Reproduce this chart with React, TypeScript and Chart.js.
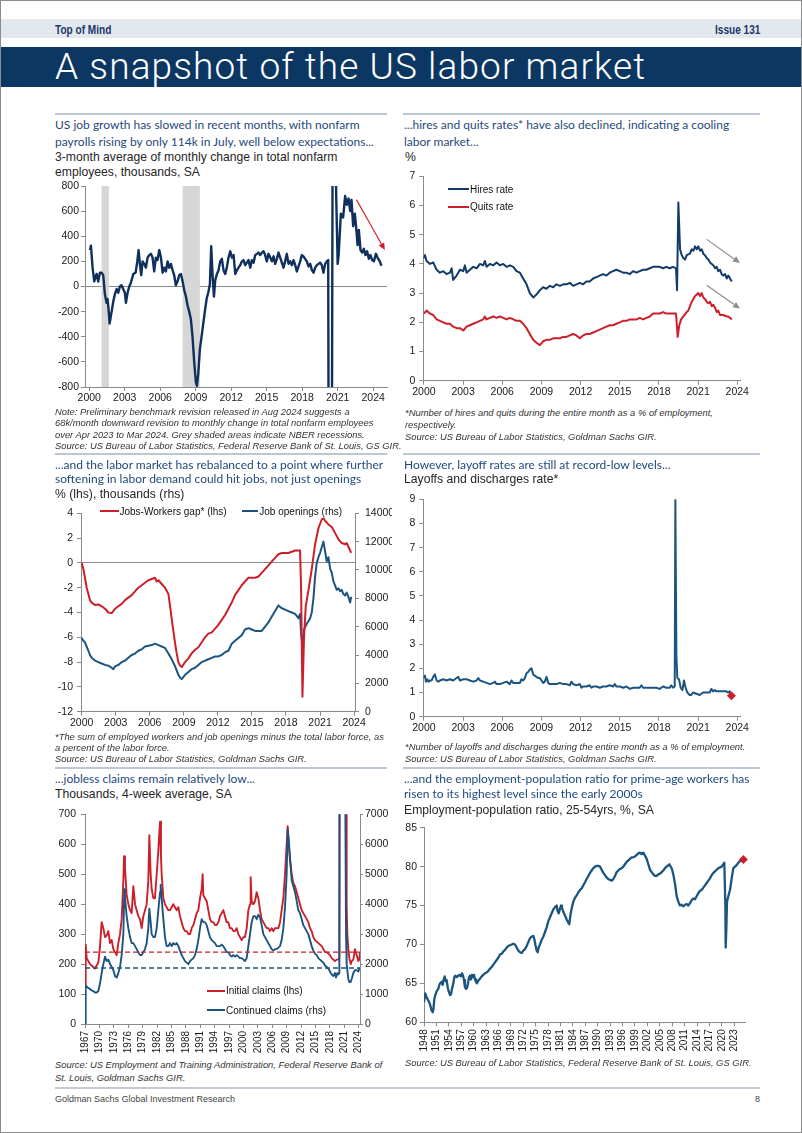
import React, { useEffect, useRef } from "react";
import { Chart, registerables } from "chart.js";

Chart.register(...registerables);

type P = [number, number];

// ---------------- DATA ----------------
const yearTicks2000 = [2000, 2003, 2006, 2009, 2012, 2015, 2018, 2021, 2024];
const claimsYearTicks = [1967, 1970, 1973, 1976, 1979, 1982, 1985, 1988, 1991, 1994, 1997, 2000, 2003, 2006, 2009, 2012, 2015, 2018, 2021, 2024];
const eprYearTicks = [1948, 1951, 1954, 1957, 1960, 1963, 1966, 1969, 1972, 1975, 1978, 1981, 1984, 1987, 1990, 1993, 1996, 1999, 2002, 2005, 2008, 2011, 2014, 2017, 2020, 2023];

// 3-month average of monthly change in nonfarm payrolls (thousands)
const payrollChange3m: P[] = [
  [2000.06,290],[2000.14,325],[2000.28,150],[2000.42,40],[2000.62,100],[2000.76,40],[2000.90,110],[2001.04,110],[2001.18,90],[2001.32,-60],[2001.46,-130],[2001.55,-100],[2001.63,-180],[2001.72,-295],[2001.89,-200],[2002.03,-120],[2002.17,-60],[2002.31,-20],[2002.45,-50],[2002.59,0],[2002.73,10],[2002.87,-20],[2003.01,-50],[2003.10,-130],[2003.24,-50],[2003.38,0],[2003.52,30],[2003.72,100],[2003.92,110],[2004.06,200],[2004.17,290],[2004.28,180],[2004.39,90],[2004.51,200],[2004.65,180],[2004.79,150],[2004.93,230],[2005.07,250],[2005.21,260],[2005.35,230],[2005.49,120],[2005.63,230],[2005.77,210],[2005.92,290],[2006.06,230],[2006.20,110],[2006.34,150],[2006.48,120],[2006.62,200],[2006.76,150],[2006.90,180],[2007.04,130],[2007.18,90],[2007.32,10],[2007.46,40],[2007.61,90],[2007.75,100],[2007.89,40],[2008.03,-30],[2008.17,-80],[2008.31,-150],[2008.45,-200],[2008.59,-260],[2008.73,-400],[2008.87,-600],[2009.01,-760],[2009.10,-790],[2009.21,-700],[2009.35,-500],[2009.49,-400],[2009.63,-300],[2009.77,-200],[2009.92,-100],[2010.08,-40],[2010.20,20],[2010.31,320],[2010.42,100],[2010.54,-80],[2010.65,50],[2010.79,100],[2010.93,130],[2011.07,200],[2011.21,220],[2011.35,130],[2011.49,100],[2011.63,150],[2011.77,230],[2011.92,280],[2012.06,230],[2012.20,250],[2012.34,100],[2012.48,130],[2012.62,150],[2012.76,170],[2012.90,200],[2013.04,210],[2013.18,170],[2013.32,190],[2013.46,210],[2013.61,150],[2013.75,210],[2013.89,190],[2014.03,250],[2014.17,260],[2014.31,270],[2014.45,250],[2014.59,270],[2014.73,280],[2014.87,250],[2015.01,200],[2015.15,260],[2015.30,230],[2015.44,200],[2015.58,240],[2015.72,180],[2015.86,220],[2016.00,270],[2016.14,230],[2016.28,190],[2016.42,150],[2016.56,200],[2016.70,260],[2016.85,180],[2016.99,200],[2017.13,170],[2017.27,210],[2017.41,170],[2017.55,120],[2017.69,160],[2017.83,200],[2017.97,250],[2018.11,240],[2018.25,220],[2018.39,200],[2018.54,160],[2018.68,180],[2018.82,130],[2018.96,110],[2019.10,150],[2019.24,170],[2019.38,180],[2019.52,190],[2019.66,170],[2019.80,110],[2019.94,180],[2020.08,200],[2020.20,210],[2020.31,-4500],[2020.48,-2500],[2020.62,3000],[2020.75,1500],[2020.88,700],[2021.00,180],[2021.08,250],[2021.27,580],[2021.46,550],[2021.63,720],[2021.77,650],[2021.92,700],[2022.06,600],[2022.17,690],[2022.31,480],[2022.45,580],[2022.59,440],[2022.68,330],[2022.79,450],[2022.93,290],[2023.07,270],[2023.21,300],[2023.35,250],[2023.49,280],[2023.63,220],[2023.77,250],[2023.92,210],[2024.06,200],[2024.23,260],[2024.37,230],[2024.56,200],[2024.70,165],
];
const nberRecessions: P[] = [[2001.04, 2001.66], [2007.89, 2009.35]];
const payrollTrendArrow: P[] = [[2022.59, 690], [2024.99, 290]];

// JOLTS hires and quits rates (%)
const hiresRate: P[] = [
  [2000.00,4.2],[2000.08,4.3],[2000.20,4.1],[2000.46,4.0],[2000.71,4.05],[2000.97,3.8],[2001.22,3.7],[2001.48,3.75],[2001.73,3.65],[2001.99,3.7],[2002.12,3.85],[2002.24,3.45],[2002.50,3.6],[2002.76,3.8],[2003.01,3.75],[2003.14,3.95],[2003.27,3.7],[2003.52,3.8],[2003.78,3.9],[2004.03,3.85],[2004.29,4.0],[2004.54,3.95],[2004.67,4.1],[2004.80,3.9],[2005.05,4.0],[2005.31,3.95],[2005.56,4.05],[2005.82,3.95],[2006.07,4.0],[2006.33,3.9],[2006.58,3.95],[2006.84,3.9],[2007.09,3.75],[2007.35,3.7],[2007.60,3.5],[2007.86,3.3],[2008.11,3.0],[2008.37,2.85],[2008.62,2.95],[2008.88,3.1],[2009.13,3.2],[2009.39,3.15],[2009.64,3.25],[2009.90,3.2],[2010.15,3.3],[2010.41,3.25],[2010.66,3.3],[2010.92,3.3],[2011.17,3.35],[2011.43,3.25],[2011.68,3.3],[2011.94,3.35],[2012.19,3.3],[2012.45,3.4],[2012.70,3.4],[2012.96,3.5],[2013.21,3.55],[2013.47,3.6],[2013.72,3.65],[2013.98,3.6],[2014.23,3.7],[2014.49,3.75],[2014.74,3.8],[2015.00,3.75],[2015.26,3.7],[2015.51,3.7],[2015.77,3.65],[2016.02,3.75],[2016.28,3.7],[2016.53,3.75],[2016.79,3.8],[2017.04,3.8],[2017.30,3.85],[2017.55,3.9],[2017.81,3.9],[2018.06,3.9],[2018.32,3.85],[2018.57,3.9],[2018.83,3.85],[2019.08,3.9],[2019.31,3.85],[2019.39,3.1],[2019.49,6.1],[2019.62,4.5],[2019.75,4.3],[2019.87,4.2],[2020.00,4.15],[2020.13,4.3],[2020.38,4.35],[2020.51,4.5],[2020.64,4.45],[2020.77,4.6],[2020.90,4.5],[2021.02,4.6],[2021.15,4.45],[2021.28,4.5],[2021.40,4.35],[2021.53,4.3],[2021.66,4.2],[2021.79,4.15],[2021.92,4.05],[2022.05,4.0],[2022.17,3.95],[2022.30,3.85],[2022.43,3.9],[2022.55,3.75],[2022.68,3.8],[2022.81,3.65],[2022.93,3.6],[2023.07,3.65],[2023.20,3.5],[2023.32,3.6],[2023.45,3.5],[2023.58,3.4],
];
const quitsRate: P[] = [
  [2000.00,2.3],[2000.20,2.4],[2000.46,2.3],[2000.71,2.25],[2000.97,2.1],[2001.22,2.05],[2001.48,2.0],[2001.73,1.95],[2001.99,1.95],[2002.24,1.85],[2002.50,1.8],[2002.76,1.8],[2003.01,1.72],[2003.27,1.85],[2003.52,1.9],[2003.78,1.95],[2004.03,2.0],[2004.29,2.05],[2004.54,2.1],[2004.67,2.2],[2004.80,2.1],[2005.05,2.15],[2005.31,2.2],[2005.56,2.15],[2005.82,2.2],[2006.07,2.15],[2006.33,2.1],[2006.58,2.15],[2006.84,2.1],[2007.09,2.05],[2007.35,2.05],[2007.60,1.95],[2007.86,1.8],[2008.11,1.6],[2008.37,1.4],[2008.62,1.3],[2008.88,1.22],[2009.13,1.35],[2009.39,1.4],[2009.64,1.4],[2009.90,1.45],[2010.15,1.45],[2010.41,1.45],[2010.66,1.5],[2010.92,1.5],[2011.17,1.55],[2011.43,1.6],[2011.68,1.55],[2011.94,1.45],[2012.19,1.55],[2012.45,1.6],[2012.70,1.6],[2012.96,1.65],[2013.21,1.7],[2013.47,1.75],[2013.72,1.8],[2013.98,1.85],[2014.23,1.9],[2014.49,1.9],[2014.74,1.95],[2015.00,2.0],[2015.26,2.05],[2015.51,2.05],[2015.77,2.1],[2016.02,2.1],[2016.28,2.1],[2016.53,2.15],[2016.79,2.1],[2017.04,2.15],[2017.30,2.2],[2017.55,2.3],[2017.81,2.3],[2018.06,2.3],[2018.32,2.35],[2018.57,2.3],[2018.83,2.3],[2019.08,2.3],[2019.31,2.3],[2019.44,1.5],[2019.56,1.9],[2019.70,2.1],[2019.87,2.2],[2020.13,2.35],[2020.25,2.4],[2020.38,2.55],[2020.51,2.7],[2020.64,2.8],[2020.77,2.9],[2020.90,2.95],[2021.02,3.0],[2021.15,2.9],[2021.28,3.0],[2021.40,2.85],[2021.53,2.8],[2021.66,2.7],[2021.79,2.65],[2021.92,2.7],[2022.05,2.55],[2022.17,2.6],[2022.30,2.5],[2022.43,2.35],[2022.55,2.4],[2022.68,2.25],[2022.93,2.25],[2023.20,2.2],[2023.32,2.2],[2023.45,2.15],[2023.58,2.1],
];
const hiresArrow: P[] = [[2021.66, 4.84], [2024.21, 4.03]];
const quitsArrow: P[] = [[2021.66, 3.27], [2024.21, 2.47]];

// Jobs-workers gap (% of labor force, lhs) and job openings (thousands, rhs)
const jobsWorkersGap: P[] = [
  [2000.00,0],[2000.15,-0.5],[2000.29,-1.2],[2000.44,-2.0],[2000.59,-2.5],[2000.73,-3.0],[2000.88,-3.2],[2001.18,-3.4],[2001.47,-3.35],[2001.76,-3.5],[2002.06,-3.7],[2002.35,-4.0],[2002.64,-4.05],[2002.94,-3.7],[2003.23,-3.5],[2003.53,-3.3],[2003.82,-3.0],[2004.11,-2.8],[2004.41,-2.6],[2004.70,-2.3],[2004.99,-2.0],[2005.29,-1.8],[2005.58,-1.6],[2005.88,-1.4],[2006.17,-1.3],[2006.46,-1.2],[2006.61,-1.5],[2006.76,-1.4],[2007.05,-1.7],[2007.34,-2.0],[2007.64,-2.5],[2007.79,-3.5],[2007.93,-4.5],[2008.08,-5.5],[2008.23,-6.5],[2008.37,-7.3],[2008.52,-8.0],[2008.67,-8.3],[2008.81,-8.4],[2009.11,-8.0],[2009.40,-7.7],[2009.69,-7.3],[2009.99,-7.0],[2010.28,-6.8],[2010.58,-6.4],[2010.87,-6.0],[2011.16,-5.7],[2011.46,-5.6],[2011.75,-5.3],[2012.04,-5.0],[2012.34,-4.6],[2012.63,-4.2],[2012.93,-3.7],[2013.22,-3.2],[2013.51,-2.6],[2013.81,-2.2],[2014.10,-1.8],[2014.39,-1.5],[2014.69,-1.2],[2014.98,-1.2],[2015.28,-1.2],[2015.57,-1.1],[2015.86,-0.8],[2016.16,-0.5],[2016.45,-0.2],[2016.74,0.1],[2017.04,0.4],[2017.33,0.7],[2017.63,0.8],[2017.92,0.8],[2018.21,0.8],[2018.51,0.9],[2018.80,1.0],[2019.10,1.0],[2019.24,1.0],[2019.33,-2.0],[2019.45,-10.8],[2019.59,-6.0],[2019.74,-3.5],[2019.98,-2.2],[2020.27,-0.5],[2020.56,1.5],[2020.86,2.8],[2021.15,3.5],[2021.30,3.6],[2021.45,3.4],[2021.74,3.1],[2022.03,2.9],[2022.33,2.4],[2022.62,1.9],[2022.91,1.6],[2023.21,1.5],[2023.35,1.6],[2023.50,1.3],[2023.65,1.0],[2023.74,0.8],
];
const jobOpenings: P[] = [
  [2000.00,5200],[2000.15,5000],[2000.29,4900],[2000.44,4600],[2000.59,4300],[2000.73,4000],[2000.88,3800],[2001.18,3600],[2001.47,3500],[2001.76,3400],[2002.06,3300],[2002.35,3250],[2002.64,3100],[2002.79,3000],[2002.94,3200],[2003.23,3300],[2003.53,3500],[2003.82,3600],[2004.11,3800],[2004.41,4000],[2004.70,4100],[2004.99,4300],[2005.29,4400],[2005.58,4600],[2005.88,4650],[2006.17,4700],[2006.46,4800],[2006.76,4700],[2007.05,4600],[2007.34,4500],[2007.64,4100],[2007.93,3700],[2008.23,3200],[2008.52,2600],[2008.67,2400],[2008.81,2300],[2009.11,2600],[2009.40,2800],[2009.69,3000],[2009.99,3100],[2010.28,3300],[2010.58,3500],[2010.87,3600],[2011.16,3700],[2011.46,3800],[2011.75,3900],[2012.04,3900],[2012.34,4000],[2012.63,4200],[2012.93,4300],[2013.22,4800],[2013.51,5000],[2013.81,5200],[2014.10,5400],[2014.39,5800],[2014.69,5900],[2014.98,5800],[2015.28,5700],[2015.57,5700],[2015.86,5700],[2016.16,6000],[2016.45,6300],[2016.74,6700],[2017.04,7100],[2017.33,7500],[2017.63,7300],[2017.92,7200],[2018.21,7100],[2018.51,7000],[2018.80,6900],[2019.10,6600],[2019.24,6900],[2019.33,5500],[2019.45,4600],[2019.59,5800],[2019.83,6200],[2020.13,6600],[2020.27,7000],[2020.42,8000],[2020.56,9500],[2020.71,10500],[2020.86,10900],[2021.00,11200],[2021.15,11600],[2021.30,12000],[2021.45,11300],[2021.59,10600],[2021.74,10900],[2021.89,10100],[2022.03,9800],[2022.18,9200],[2022.33,8900],[2022.47,8600],[2022.62,8700],[2022.77,8500],[2022.91,8600],[2023.06,8300],[2023.21,8200],[2023.35,8400],[2023.50,8100],[2023.65,7700],[2023.74,8100],
];

// Layoffs and discharges rate (%)
const layoffsRate: P[] = [
  [2000.00,1.6],[2000.08,1.7],[2000.15,1.45],[2000.26,1.55],[2000.36,1.45],[2000.46,1.5],[2000.59,1.5],[2000.71,1.65],[2000.84,1.75],[2000.97,1.5],[2001.10,1.45],[2001.22,1.5],[2001.48,1.55],[2001.73,1.5],[2001.99,1.55],[2002.24,1.5],[2002.50,1.6],[2002.63,1.65],[2002.76,1.5],[2003.01,1.55],[2003.27,1.55],[2003.52,1.5],[2003.78,1.45],[2004.03,1.5],[2004.16,1.6],[2004.29,1.5],[2004.54,1.45],[2004.80,1.4],[2005.05,1.35],[2005.31,1.4],[2005.43,1.45],[2005.56,1.35],[2005.82,1.35],[2006.07,1.4],[2006.33,1.45],[2006.58,1.35],[2006.71,1.5],[2006.84,1.4],[2007.09,1.4],[2007.35,1.4],[2007.47,1.55],[2007.60,1.5],[2007.73,1.6],[2007.86,1.8],[2007.98,1.85],[2008.11,1.95],[2008.24,2.0],[2008.37,1.75],[2008.49,1.7],[2008.62,1.65],[2008.75,1.6],[2008.88,1.6],[2009.01,1.5],[2009.13,1.4],[2009.26,1.45],[2009.39,1.65],[2009.52,1.4],[2009.64,1.35],[2009.90,1.35],[2010.15,1.35],[2010.41,1.4],[2010.66,1.35],[2010.92,1.35],[2011.17,1.3],[2011.30,1.45],[2011.43,1.35],[2011.68,1.3],[2011.94,1.35],[2012.07,1.2],[2012.19,1.25],[2012.45,1.25],[2012.70,1.3],[2012.83,1.2],[2012.96,1.25],[2013.21,1.25],[2013.47,1.2],[2013.72,1.25],[2013.98,1.25],[2014.23,1.3],[2014.49,1.25],[2014.62,1.35],[2014.74,1.25],[2015.00,1.25],[2015.26,1.2],[2015.51,1.25],[2015.77,1.15],[2016.02,1.2],[2016.28,1.2],[2016.53,1.2],[2016.66,1.3],[2016.79,1.2],[2017.04,1.2],[2017.30,1.2],[2017.55,1.2],[2017.81,1.2],[2018.06,1.15],[2018.32,1.25],[2018.57,1.2],[2018.83,1.2],[2018.95,1.3],[2019.08,1.2],[2019.21,1.25],[2019.26,9.0],[2019.34,2.5],[2019.41,1.6],[2019.54,1.55],[2019.67,1.2],[2019.80,1.1],[2019.92,1.5],[2020.05,1.2],[2020.18,1.0],[2020.36,0.9],[2020.48,0.9],[2020.61,1.0],[2020.87,0.95],[2021.12,0.9],[2021.25,0.95],[2021.38,1.0],[2021.63,1.0],[2021.89,1.0],[2022.01,1.15],[2022.14,1.05],[2022.27,1.1],[2022.40,1.05],[2022.65,1.05],[2022.91,1.05],[2023.16,1.05],[2023.29,1.0],[2023.42,1.05],[2023.47,0.95],[2023.55,0.87],
];
const layoffsLatest: P = [2023.55, 0.87];

// Jobless claims, 4-week average (thousands): initial (lhs), continued (rhs)
const initialClaims: P[] = [
  [1967.00,130],[1967.14,265],[1967.35,220],[1967.69,210],[1968.04,200],[1968.39,195],[1968.74,190],[1969.08,185],[1969.43,195],[1969.78,205],[1970.13,260],[1970.47,340],[1970.82,320],[1971.17,290],[1971.51,295],[1971.86,310],[1972.21,270],[1972.56,280],[1972.90,250],[1973.25,240],[1973.60,230],[1973.94,270],[1974.29,300],[1974.64,350],[1974.99,480],[1975.13,560],[1975.33,520],[1975.68,430],[1976.03,400],[1976.38,380],[1976.72,370],[1977.07,460],[1977.42,400],[1977.76,380],[1978.11,360],[1978.46,350],[1978.81,320],[1979.15,360],[1979.50,380],[1979.85,400],[1980.19,480],[1980.40,630],[1980.68,500],[1980.89,450],[1981.24,420],[1981.58,420],[1981.93,500],[1982.28,580],[1982.49,640],[1982.63,675],[1982.83,560],[1982.97,500],[1983.32,420],[1983.67,400],[1984.01,390],[1984.36,380],[1984.71,380],[1985.06,390],[1985.40,400],[1985.75,390],[1986.10,380],[1986.44,390],[1986.79,360],[1987.14,340],[1987.49,320],[1987.83,310],[1988.18,310],[1988.53,300],[1988.88,300],[1989.22,320],[1989.57,330],[1989.92,350],[1990.26,370],[1990.61,380],[1990.96,420],[1991.31,450],[1991.51,500],[1991.65,430],[1992.00,420],[1992.35,410],[1992.69,380],[1993.04,350],[1993.39,340],[1993.74,340],[1994.08,330],[1994.43,330],[1994.78,340],[1995.13,360],[1995.47,370],[1995.82,380],[1996.17,360],[1996.51,340],[1996.86,340],[1997.21,320],[1997.56,320],[1997.90,310],[1998.25,310],[1998.60,320],[1998.94,300],[1999.29,290],[1999.64,280],[1999.99,290],[2000.33,290],[2000.68,320],[2001.03,380],[2001.38,400],[2001.51,490],[2001.72,410],[2002.07,400],[2002.42,410],[2002.76,440],[2003.11,420],[2003.46,380],[2003.81,350],[2004.15,340],[2004.50,330],[2004.85,320],[2005.19,320],[2005.54,310],[2005.89,320],[2006.24,310],[2006.58,320],[2006.93,320],[2007.28,320],[2007.63,340],[2007.97,380],[2008.32,420],[2008.67,500],[2009.01,600],[2009.22,660],[2009.43,600],[2009.69,550],[2010.06,500],[2010.40,470],[2010.75,460],[2011.10,440],[2011.44,420],[2011.79,400],[2012.14,380],[2012.49,370],[2012.83,360],[2013.18,350],[2013.53,340],[2013.88,320],[2014.22,310],[2014.57,290],[2014.92,280],[2015.26,275],[2015.61,270],[2015.96,265],[2016.31,260],[2016.65,250],[2017.00,240],[2017.35,240],[2017.69,235],[2018.04,230],[2018.39,220],[2018.74,215],[2019.08,210],[2019.43,215],[2019.78,215],[2019.99,220],[2020.14,3000],[2020.80,1000],[2021.38,900],[2021.51,400],[2021.65,300],[2021.86,250],[2022.07,220],[2022.35,200],[2022.56,210],[2022.90,215],[2023.25,250],[2023.60,230],[2023.94,210],[2024.15,215],[2024.29,240],
];
const continuedClaims: P[] = [
  [1967.00,0],[1967.14,1280],[1967.69,1200],[1968.04,1170],[1968.39,1120],[1968.74,1100],[1969.08,1050],[1969.43,1050],[1969.78,1100],[1970.13,1350],[1970.47,1700],[1970.82,2000],[1971.17,2250],[1971.51,2100],[1971.86,2150],[1972.21,2000],[1972.56,1900],[1972.90,1800],[1973.25,1600],[1973.60,1550],[1973.94,1700],[1974.29,1900],[1974.64,2300],[1974.99,3000],[1975.19,4500],[1975.33,4200],[1975.68,3600],[1976.03,3200],[1976.38,2900],[1976.72,2700],[1977.07,2700],[1977.42,2600],[1977.76,2500],[1978.11,2400],[1978.46,2300],[1978.81,2300],[1979.15,2400],[1979.50,2500],[1979.85,2700],[1980.19,3200],[1980.40,3850],[1980.68,3400],[1980.89,3000],[1981.24,2900],[1981.58,2900],[1981.93,3200],[1982.28,3800],[1982.63,4400],[1982.76,4650],[1982.97,4200],[1983.32,3500],[1983.67,2900],[1984.01,2600],[1984.36,2600],[1984.71,2700],[1985.06,2600],[1985.40,2700],[1985.75,2650],[1986.10,2700],[1986.44,2600],[1986.79,2450],[1987.14,2300],[1987.49,2200],[1987.83,2100],[1988.18,2050],[1988.53,2000],[1988.88,2100],[1989.22,2150],[1989.57,2200],[1989.92,2300],[1990.26,2500],[1990.61,2800],[1990.96,3200],[1991.31,3500],[1991.65,3400],[1992.00,3400],[1992.35,3300],[1992.69,3100],[1993.04,2900],[1993.39,2800],[1993.74,2750],[1994.08,2700],[1994.43,2600],[1994.78,2600],[1995.13,2600],[1995.47,2650],[1995.82,2600],[1996.17,2500],[1996.51,2400],[1996.86,2400],[1997.21,2300],[1997.56,2250],[1997.90,2300],[1998.25,2250],[1998.60,2300],[1998.94,2250],[1999.29,2200],[1999.64,2200],[1999.99,2150],[2000.33,2100],[2000.68,2200],[2001.03,2600],[2001.38,3000],[2001.72,3400],[2002.07,3600],[2002.42,3600],[2002.76,3500],[2003.11,3650],[2003.46,3550],[2003.81,3300],[2004.15,3000],[2004.50,2900],[2004.85,2800],[2005.19,2700],[2005.54,2600],[2005.89,2500],[2006.24,2450],[2006.58,2500],[2006.93,2500],[2007.28,2550],[2007.63,2600],[2007.97,2800],[2008.32,3200],[2008.67,3900],[2009.01,5000],[2009.22,6500],[2009.43,6200],[2009.69,5600],[2010.06,4800],[2010.40,4600],[2010.75,4400],[2011.10,4100],[2011.44,3800],[2011.79,3700],[2012.14,3500],[2012.49,3300],[2012.83,3200],[2013.18,3100],[2013.53,3000],[2013.88,2800],[2014.22,2600],[2014.57,2450],[2014.92,2350],[2015.26,2300],[2015.61,2200],[2015.96,2150],[2016.31,2100],[2016.65,2050],[2017.00,1950],[2017.35,1900],[2017.69,1850],[2018.04,1750],[2018.39,1650],[2018.74,1600],[2019.08,1700],[2019.29,1550],[2019.57,1700],[2019.78,1650],[2019.99,1700],[2020.14,20000],[2020.80,15000],[2021.18,9000],[2021.38,3000],[2021.51,2000],[2021.86,1500],[2022.07,1400],[2022.35,1400],[2022.56,1500],[2022.90,1700],[2023.25,1800],[2023.60,1800],[2023.94,1750],[2024.15,1850],[2024.29,1850],
];
const initialClaimsRef = 240;
const continuedClaimsRef = 1870;

// Prime-age (25-54) employment-population ratio (%)
const primeAgeEpop: P[] = [
  [1948.00,62.6],[1948.32,63.7],[1948.64,63.2],[1949.05,62.8],[1949.45,62.3],[1949.85,61.5],[1950.10,61.3],[1950.26,61.6],[1950.50,63.0],[1950.74,63.5],[1951.06,64.0],[1951.46,64.3],[1951.71,64.8],[1951.87,65.0],[1952.27,65.2],[1952.51,64.8],[1952.75,65.5],[1953.00,65.9],[1953.24,65.3],[1953.48,65.4],[1953.72,64.5],[1953.96,64.0],[1954.29,63.5],[1954.53,63.6],[1954.77,64.3],[1955.09,65.0],[1955.33,65.8],[1955.57,66.0],[1955.90,65.8],[1956.30,66.0],[1956.70,66.1],[1956.94,65.9],[1957.19,66.3],[1957.43,66.0],[1957.67,65.4],[1957.91,64.5],[1958.15,64.3],[1958.39,64.4],[1958.64,65.0],[1958.88,65.8],[1959.12,66.0],[1959.36,65.5],[1959.60,66.1],[1959.85,65.8],[1960.09,66.1],[1960.33,65.5],[1960.57,65.2],[1960.81,65.0],[1961.05,65.3],[1961.54,65.6],[1961.94,65.9],[1962.34,66.1],[1962.75,66.3],[1963.15,66.4],[1963.55,66.6],[1963.95,66.9],[1964.36,67.1],[1964.76,67.4],[1965.16,67.7],[1965.57,68.0],[1965.97,68.3],[1966.37,68.7],[1966.78,68.8],[1967.18,69.1],[1967.58,69.3],[1967.98,69.6],[1968.39,69.8],[1968.79,69.9],[1969.19,70.0],[1969.60,70.1],[1970.00,70.0],[1970.40,69.6],[1970.80,69.2],[1971.21,69.0],[1971.61,68.9],[1972.01,69.2],[1972.42,69.4],[1972.82,69.8],[1973.22,70.3],[1973.62,70.8],[1974.03,71.0],[1974.43,71.1],[1974.67,70.7],[1974.91,70.0],[1975.24,69.2],[1975.48,69.0],[1975.72,69.6],[1976.04,70.0],[1976.44,70.6],[1976.85,71.0],[1977.25,71.6],[1977.65,72.2],[1978.06,73.0],[1978.46,73.5],[1978.86,74.0],[1979.27,74.5],[1979.67,74.8],[1980.07,75.0],[1980.31,74.3],[1980.56,74.0],[1980.88,74.6],[1981.12,75.0],[1981.36,74.7],[1981.68,74.2],[1982.09,73.7],[1982.49,73.2],[1982.89,72.8],[1983.13,72.6],[1983.46,74.0],[1983.78,74.8],[1984.10,75.5],[1984.50,76.0],[1984.91,76.3],[1985.31,76.7],[1985.71,77.0],[1986.11,77.2],[1986.52,77.6],[1986.92,78.0],[1987.32,78.4],[1987.73,78.8],[1988.13,79.2],[1988.53,79.5],[1988.93,79.8],[1989.34,80.0],[1989.74,80.1],[1990.14,80.1],
  [1990.55,80.0],[1990.95,79.6],[1991.35,79.2],[1991.76,78.9],[1992.16,78.6],[1992.56,78.4],[1992.96,78.3],[1993.37,78.2],[1993.77,78.4],[1994.17,78.8],[1994.58,79.3],[1994.98,79.5],[1995.38,79.7],[1995.79,79.8],[1996.19,80.0],[1996.59,80.3],[1996.99,80.6],[1997.40,80.8],[1997.80,81.0],[1998.20,81.2],[1998.61,81.2],[1999.01,81.3],[1999.41,81.5],[1999.81,81.7],[2000.22,81.8],[2000.62,81.6],[2001.02,81.8],[2001.42,81.4],[2001.83,81.0],[2002.23,80.3],[2002.63,79.6],[2003.04,79.3],[2003.44,79.0],[2003.84,78.8],[2004.24,78.8],[2004.65,79.0],[2005.05,79.1],[2005.45,79.3],[2005.86,79.5],[2006.26,79.8],[2006.66,80.0],[2007.07,80.2],[2007.31,80.3],[2007.63,80.0],[2007.87,79.8],[2008.27,79.0],[2008.68,77.8],[2009.08,76.2],[2009.48,75.5],[2009.88,75.0],[2010.29,75.1],[2010.69,74.9],[2011.09,75.1],[2011.50,75.2],[2011.90,75.0],[2012.30,75.3],[2012.71,75.7],[2013.11,75.9],[2013.51,75.8],[2013.91,76.2],[2014.32,76.6],[2014.72,76.9],[2015.12,77.0],[2015.53,77.3],[2015.93,77.6],[2016.33,77.9],[2016.74,78.2],[2017.14,78.5],[2017.54,78.9],[2017.95,79.2],[2018.35,79.4],[2018.75,79.6],[2019.15,79.8],[2019.56,79.9],[2019.96,80.0],[2020.36,80.3],[2020.60,80.5],[2020.85,75.0],[2020.93,69.6],[2021.09,72.0],[2021.25,75.5],[2021.57,76.2],[2021.97,77.0],[2022.38,78.5],[2022.78,79.8],[2023.18,80.0],[2023.58,80.2],[2023.99,80.5],[2024.39,80.7],[2024.79,80.8],[2025.20,80.9],
];
const primeAgeEpopLatest: P = [2025.2, 80.9];

// ---------------- STYLE ----------------
const SANS = "'Liberation Sans', Arial, Helvetica, sans-serif";
const TITLE_FONT = "Lato, 'Open Sans', 'Noto Sans', sans-serif";
const TITLE_BLUE = "#1f497d";
const NAVY = "#0c3763";
const LINE_NAVY = "#0f2f5c";
const LINE_BLUE = "#1b557f";
const RED = "#cc1f2a";
const AXIS = "#8a8a8a";
const TICK_COLOR = "#1a1a1a";
const SEP = "#bcc6d4";

Chart.defaults.font.family = SANS;

type Box = { x: number; y: number; w: number; h: number };
type Plot = { l: number; t: number; r: number; b: number };
type Lay = { padTop: number; leftW: number; rightW: number; bottomH: number };

const pts = (a: P[]) => a.map(([x, y]) => ({ x, y }));

function lineDs(data: P[], color: string, width: number, extra: any = {}) {
  return {
    type: "line",
    data: pts(data),
    borderColor: color,
    backgroundColor: color,
    borderWidth: width,
    pointRadius: 0,
    tension: 0,
    borderJoinStyle: "round",
    clip: 0,
    ...extra,
  };
}

function markerDs(p: P, color: string, extra: any = {}) {
  return {
    type: "line",
    data: [{ x: p[0], y: p[1] }],
    showLine: false,
    pointStyle: "rectRot",
    pointRadius: 4.5,
    backgroundColor: color,
    borderColor: color,
    borderWidth: 0,
    clip: false,
    ...extra,
  };
}

function xScale(min: number, max: number, ticks: number[], lay: Lay, rotate = false) {
  return {
    type: "linear",
    position: "bottom",
    min,
    max,
    afterBuildTicks: (s: any) => {
      s.ticks = ticks.map((v) => ({ value: v }));
    },
    afterFit: (s: any) => {
      s.height = lay.bottomH;
    },
    grid: { drawOnChartArea: false, drawTicks: true, tickLength: 4, tickColor: AXIS, color: AXIS },
    border: { display: true, color: AXIS, width: 1 },
    ticks: {
      autoSkip: false,
      minRotation: rotate ? 90 : 0,
      maxRotation: rotate ? 90 : 0,
      padding: rotate ? 3 : 1,
      color: TICK_COLOR,
      font: { family: SANS, size: rotate ? 10 : 10.5 },
      callback: (v: any) => String(v),
    },
  };
}

function yScale(pos: string, min: number, max: number, step: number, width: number, pad: number, zero = false, tickLen = 4) {
  return {
    type: "linear",
    position: pos,
    min,
    max,
    afterFit: (s: any) => {
      s.width = width;
    },
    grid: {
      drawOnChartArea: zero,
      drawTicks: true,
      tickLength: tickLen,
      tickColor: AXIS,
      color: (c: any) => (zero && c.tick && c.tick.value === 0 ? AXIS : "rgba(0,0,0,0)"),
      lineWidth: 1,
    },
    border: { display: true, color: AXIS, width: 1 },
    ticks: {
      stepSize: step,
      padding: pad,
      color: TICK_COLOR,
      font: { family: SANS, size: 10.5 },
      callback: (v: any) => String(v),
    },
  };
}

function baseOptions(lay: Lay, scales: any, hasRight: boolean) {
  return {
    responsive: false,
    maintainAspectRatio: false,
    animation: false,
    events: [],
    layout: { padding: { top: lay.padTop, right: hasRight ? 0 : lay.rightW, left: 0, bottom: 0 } },
    plugins: { legend: { display: false }, tooltip: { enabled: false }, title: { display: false } },
    scales,
  };
}

const shadePlugin = (ranges: P[], color: string) => ({
  id: "shade",
  beforeDatasetsDraw(chart: any) {
    const { ctx, chartArea, scales } = chart;
    ctx.save();
    ctx.fillStyle = color;
    ranges.forEach(([a, b]) => {
      const x1 = scales.x.getPixelForValue(a);
      const x2 = scales.x.getPixelForValue(b);
      ctx.fillRect(x1, chartArea.top, x2 - x1, chartArea.bottom - chartArea.top);
    });
    ctx.restore();
  },
});

const arrowPlugin = (arrows: P[][], color: string, yId = "y") => ({
  id: "arrows",
  afterDatasetsDraw(chart: any) {
    const { ctx, scales } = chart;
    const xs = scales.x;
    const ys = scales[yId];
    ctx.save();
    ctx.strokeStyle = color;
    ctx.fillStyle = color;
    ctx.lineWidth = 1.2;
    arrows.forEach(([p1, p2]) => {
      const X1 = xs.getPixelForValue(p1[0]);
      const Y1 = ys.getPixelForValue(p1[1]);
      const X2 = xs.getPixelForValue(p2[0]);
      const Y2 = ys.getPixelForValue(p2[1]);
      const ang = Math.atan2(Y2 - Y1, X2 - X1);
      const hl = 7;
      const hw = 3.2;
      const bx = X2 - hl * Math.cos(ang);
      const by = Y2 - hl * Math.sin(ang);
      ctx.beginPath();
      ctx.moveTo(X1, Y1);
      ctx.lineTo(bx, by);
      ctx.stroke();
      ctx.beginPath();
      ctx.moveTo(X2, Y2);
      ctx.lineTo(bx + hw * Math.sin(ang), by - hw * Math.cos(ang));
      ctx.lineTo(bx - hw * Math.sin(ang), by + hw * Math.cos(ang));
      ctx.closePath();
      ctx.fill();
    });
    ctx.restore();
  },
});

function ChartCanvas({ box, plot, build }: { box: Box; plot: Plot; build: (lay: Lay) => any }) {
  const ref = useRef<HTMLCanvasElement | null>(null);
  useEffect(() => {
    const lay: Lay = {
      padTop: plot.t - box.y,
      leftW: plot.l - box.x,
      rightW: box.x + box.w - plot.r,
      bottomH: box.y + box.h - plot.b,
    };
    const chart = new Chart(ref.current as HTMLCanvasElement, build(lay));
    return () => chart.destroy();
  }, []);
  return (
    <canvas
      ref={ref}
      width={box.w}
      height={box.h}
      style={{ position: "absolute", left: box.x, top: box.y, width: box.w, height: box.h }}
    />
  );
}

function T({ x, y, size, children, color = "#222", family = SANS, weight = 400, italic = false, align = "left", sx = 1, ls = 0 }: any) {
  const lh = Math.round(size * 1.3);
  const style: any = {
    position: "absolute",
    top: y - lh / 2,
    fontSize: size,
    lineHeight: lh + "px",
    color,
    fontFamily: family,
    fontWeight: weight,
    fontStyle: italic ? "italic" : "normal",
    whiteSpace: "nowrap",
    letterSpacing: ls,
  };
  if (align === "right") {
    style.right = 802 - x;
    style.transformOrigin = "right center";
  } else {
    style.left = x;
    style.transformOrigin = "left center";
  }
  if (sx !== 1) style.transform = `scaleX(${sx})`;
  return <div style={style}>{children}</div>;
}

function HL({ x1, x2, y, color, w = 1 }: any) {
  return <div style={{ position: "absolute", left: x1, top: y - w / 2, width: x2 - x1, height: w, background: color }} />;
}

const Title = ({ x, y, children }: any) => (
  <T x={x} y={y} size={12} color={TITLE_BLUE} family={TITLE_FONT}>
    {children}
  </T>
);
const Sub = ({ x, y, children }: any) => (
  <T x={x} y={y} size={12.2} color="#262626">
    {children}
  </T>
);
const Note = ({ x, y, children }: any) => (
  <T x={x} y={y} size={9.4} color="#333" italic>
    {children}
  </T>
);
const Legend = ({ x, y, color, len, children }: any) => (
  <>
    <HL x1={x} x2={x + len} y={y} color={color} w={2.2} />
    <T x={x + len + 1} y={y} size={10} color="#111">
      {children}
    </T>
  </>
);

// ---------------- CHART CONFIGS ----------------
const c1Box = { x: 40, y: 176, w: 352, h: 232 };
const c1Plot = { l: 85, t: 186, r: 387, b: 387 };
const buildPayrolls = (lay: Lay) => ({
  type: "line",
  data: { datasets: [lineDs(payrollChange3m, LINE_NAVY, 2.4)] },
  options: baseOptions(
    lay,
    {
      x: xScale(1999.64, 2025.17, yearTicks2000, lay),
      y: yScale("left", -800, 800, 200, lay.leftW, 2, true),
    },
    false
  ),
  plugins: [shadePlugin(nberRecessions, "#d6d6d6"), arrowPlugin([payrollTrendArrow], RED)],
});

const c2Box = { x: 395, y: 166, w: 355, h: 237 };
const c2Plot = { l: 423.3, t: 175.7, r: 741, b: 380.7 };
const buildHiresQuits = (lay: Lay) => ({
  type: "line",
  data: { datasets: [lineDs(hiresRate, "#133b69", 2), lineDs(quitsRate, RED, 2)] },
  options: baseOptions(
    lay,
    {
      x: xScale(1999.95, 2024.25, yearTicks2000, lay),
      y: yScale("left", 0, 7, 1, lay.leftW, 4),
    },
    false
  ),
  plugins: [arrowPlugin([hiresArrow, quitsArrow], "#8f8f8f")],
});

const c3Box = { x: 40, y: 501, w: 352, h: 232 };
const c3Plot = { l: 81, t: 511.7, r: 355, b: 711.7 };
const buildGap = (lay: Lay) => ({
  type: "line",
  data: {
    datasets: [
      lineDs(jobsWorkersGap, RED, 2, { yAxisID: "y" }),
      lineDs(jobOpenings, LINE_BLUE, 2, { yAxisID: "y2" }),
    ],
  },
  options: baseOptions(
    lay,
    {
      x: xScale(1999.94, 2024.08, yearTicks2000, lay),
      y: yScale("left", -12, 4, 2, lay.leftW, 4, true),
      y2: yScale("right", 0, 14000, 2000, lay.rightW, 6),
    },
    true
  ),
});

const c4Box = { x: 395, y: 489, w: 355, h: 250 };
const c4Plot = { l: 423.3, t: 499, r: 741, b: 716.7 };
const buildLayoffs = (lay: Lay) => ({
  type: "line",
  data: { datasets: [markerDs(layoffsLatest, RED), lineDs(layoffsRate, LINE_BLUE, 2)] },
  options: baseOptions(
    lay,
    {
      x: xScale(1999.95, 2024.25, yearTicks2000, lay),
      y: yScale("left", 0, 9, 1, lay.leftW, 4),
    },
    false
  ),
});

const c5Box = { x: 40, y: 803, w: 352, h: 255 };
const c5Plot = { l: 85, t: 813.3, r: 360, b: 1024 };
const buildClaims = (lay: Lay) => ({
  type: "line",
  data: {
    datasets: [
      lineDs([[1967, initialClaimsRef], [2024.29, initialClaimsRef]], RED, 1.3, { yAxisID: "y", borderDash: [5, 3] }),
      lineDs([[1967, continuedClaimsRef], [2024.29, continuedClaimsRef]], LINE_BLUE, 1.3, { yAxisID: "y2", borderDash: [5, 3] }),
      lineDs(continuedClaims, LINE_BLUE, 1.9, { yAxisID: "y2" }),
      lineDs(initialClaims, RED, 1.9, { yAxisID: "y" }),
    ],
  },
  options: baseOptions(
    lay,
    {
      x: xScale(1967, 2024.29, claimsYearTicks, lay, true),
      y: yScale("left", 0, 700, 100, lay.leftW, 5),
      y2: yScale("right", 0, 7000, 1000, lay.rightW, 2, false, 3),
    },
    true
  ),
});

const c6Box = { x: 395, y: 817, w: 355, h: 240 };
const c6Plot = { l: 424, t: 827.7, r: 745, b: 1022.3 };
const buildEpop = (lay: Lay) => ({
  type: "line",
  data: { datasets: [markerDs(primeAgeEpopLatest, RED), lineDs(primeAgeEpop, LINE_BLUE, 2.3)] },
  options: baseOptions(
    lay,
    {
      x: xScale(1948, 2025.6, eprYearTicks, lay, true),
      y: yScale("left", 60, 85, 5, lay.leftW, 3),
    },
    false
  ),
});

// ---------------- PAGE ----------------
export default function App() {
  const L = 55;
  const R = 404;
  return (
    <div style={{ position: "relative", width: 802, height: 1133, overflow: "hidden", background: "#fff", fontFamily: SANS }}>
      <style>{"body{margin:0;background:#fff}"}</style>

      {/* header */}
      <div style={{ position: "absolute", left: 0, top: 19, width: 802, height: 19, background: "#e3e7ee" }} />
      <T x={L} y={30} size={12.3} weight={700} color="#1c3867" sx={0.82}>
        Top of Mind
      </T>
      <T x={760} y={30} size={12.3} weight={700} color="#1c3867" sx={0.82} align="right">
        Issue 131
      </T>
      <div style={{ position: "absolute", left: 0, top: 47, width: 802, height: 40, background: NAVY }} />
      <T x={L} y={66.5} size={37} color="#ffffff" family="Roboto, 'Liberation Sans', sans-serif" weight={300} ls={1.1}>
        A snapshot of the US labor market
      </T>

      {/* separators */}
      <HL x1={55} x2={387} y={114} color={SEP} w={1.5} />
      <HL x1={403} x2={760} y={114} color={SEP} w={1.5} />
      <HL x1={55} x2={387} y={454} color={SEP} w={1.5} />
      <HL x1={403} x2={760} y={454} color={SEP} w={1.5} />
      <HL x1={55} x2={387} y={768} color={SEP} w={1.5} />
      <HL x1={403} x2={760} y={768} color={SEP} w={1.5} />

      {/* chart 1 */}
      <Title x={L} y={125}>US job growth has slowed in recent months, with nonfarm</Title>
      <Title x={L} y={141.5}>payrolls rising by only 114k in July, well below expectations...</Title>
      <Sub x={L} y={157}>3-month average of monthly change in total nonfarm</Sub>
      <Sub x={L} y={172}>employees, thousands, SA</Sub>
      <ChartCanvas box={c1Box} plot={c1Plot} build={buildPayrolls} />
      <Note x={L} y={411.7}>Note: Preliminary benchmark revision released in Aug 2024 suggests a</Note>
      <Note x={L} y={423.3}>68k/month downward revision to monthly change in total nonfarm employees</Note>
      <Note x={L} y={435}>over Apr 2023 to Mar 2024. Grey shaded areas indicate NBER recessions.</Note>
      <Note x={L} y={445.5}>Source: US Bureau of Labor Statistics, Federal Reserve Bank of St. Louis, GS GIR.</Note>

      {/* chart 2 */}
      <Title x={R} y={125}>...hires and quits rates* have also declined, indicating a cooling</Title>
      <Title x={R} y={141.5}>labor market...</Title>
      <Sub x={R + 1} y={157}>%</Sub>
      <ChartCanvas box={c2Box} plot={c2Plot} build={buildHiresQuits} />
      <Legend x={448} y={189.3} color="#133b69" len={21}>Hires rate</Legend>
      <Legend x={448} y={206.7} color={RED} len={21}>Quits rate</Legend>
      <Note x={R + 1} y={413.3}>*Number of hires and quits during the entire month as a % of employment,</Note>
      <Note x={R + 1} y={424.5}>respectively.</Note>
      <Note x={R + 1} y={436.7}>Source: US Bureau of Labor Statistics, Goldman Sachs GIR.</Note>

      {/* chart 3 */}
      <Title x={L} y={465}>...and the labor market has rebalanced to a point where further</Title>
      <Title x={L} y={479.3}>softening in labor demand could hit jobs, not just openings</Title>
      <Sub x={L} y={494.3}>% (lhs), thousands (rhs)</Sub>
      <ChartCanvas box={c3Box} plot={c3Plot} build={buildGap} />
      <Legend x={100} y={511} color={RED} len={18.5}>Jobs-Workers gap* (lhs)</Legend>
      <Legend x={241.7} y={511} color={LINE_BLUE} len={16.6}>Job openings (rhs)</Legend>
      <Note x={L} y={736.7}>*The sum of employed workers and job openings minus the total labor force, as</Note>
      <Note x={L} y={748.3}>a percent of the labor force.</Note>
      <Note x={L} y={759.3}>Source: US Bureau of Labor Statistics, Goldman Sachs GIR.</Note>

      {/* chart 4 */}
      <Title x={R} y={465}>However, layoff rates are still at record-low levels...</Title>
      <Sub x={R} y={479.3}>Layoffs and discharges rate*</Sub>
      <ChartCanvas box={c4Box} plot={c4Plot} build={buildLayoffs} />
      <Note x={R + 1} y={746.7}>*Number of layoffs and discharges during the entire month as a % of employment.</Note>
      <Note x={R + 1} y={759.3}>Source: US Bureau of Labor Statistics, Goldman Sachs GIR.</Note>

      {/* chart 5 */}
      <Title x={L} y={779}>...jobless claims remain relatively low...</Title>
      <Sub x={L} y={794.3}>Thousands, 4-week average, SA</Sub>
      <ChartCanvas box={c5Box} plot={c5Plot} build={buildClaims} />
      <Legend x={206.7} y={990.7} color={RED} len={18.3}>Initial claims (lhs)</Legend>
      <Legend x={206.7} y={1010} color={LINE_BLUE} len={18.3}>Continued claims (rhs)</Legend>
      <Note x={L} y={1065}>Source: US Employment and Training Administration, Federal Reserve Bank of</Note>
      <Note x={L} y={1078}>St. Louis, Goldman Sachs GIR.</Note>

      {/* chart 6 */}
      <Title x={R} y={779}>...and the employment-population ratio for prime-age workers has</Title>
      <Title x={R} y={794.3}>risen to its highest level since the early 2000s</Title>
      <Sub x={R} y={810}>Employment-population ratio, 25-54yrs, %, SA</Sub>
      <ChartCanvas box={c6Box} plot={c6Plot} build={buildEpop} />
      <Note x={R + 1} y={1063}>Source: US Bureau of Labor Statistics, Federal Reserve Bank of St. Louis, GS GIR.</Note>

      {/* footer */}
      <HL x1={55} x2={760} y={1088} color="#c4c9d4" w={2} />
      <T x={55} y={1098.5} size={9} color="#444">
        Goldman Sachs Global Investment Research
      </T>
      <T x={760} y={1098.5} size={9} color="#444" align="right">
        8
      </T>

      {/* page frame */}
      <div style={{ position: "absolute", left: 0, top: 0, width: 802, height: 1133, border: "1px solid #8c8c8c", boxSizing: "border-box", pointerEvents: "none" }} />
    </div>
  );
}
